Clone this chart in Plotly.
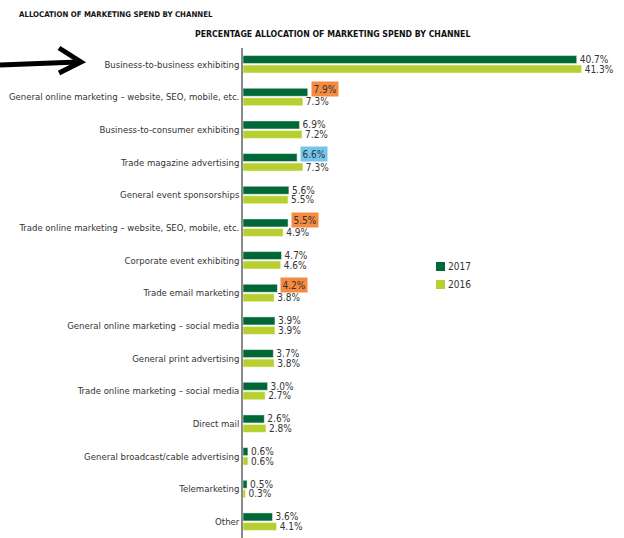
import plotly.graph_objects as go

categories = [
    "Business-to-business exhibiting",
    "General online marketing – website, SEO, mobile, etc.",
    "Business-to-consumer exhibiting",
    "Trade magazine advertising",
    "General event sponsorships",
    "Trade online marketing – website, SEO, mobile, etc.",
    "Corporate event exhibiting",
    "Trade email marketing",
    "General online marketing – social media",
    "General print advertising",
    "Trade online marketing – social media",
    "Direct mail",
    "General broadcast/cable advertising",
    "Telemarketing",
    "Other",
]
values_2017 = [40.7, 7.9, 6.9, 6.6, 5.6, 5.5, 4.7, 4.2, 3.9, 3.7, 3.0, 2.6, 0.6, 0.5, 3.6]
values_2016 = [41.3, 7.3, 7.2, 7.3, 5.5, 4.9, 4.6, 3.8, 3.9, 3.8, 2.7, 2.8, 0.6, 0.3, 4.1]
series_names = ["2017", "2016"]
# highlighted 2017 labels: category -> box colour
highlight_2017 = {
    "General online marketing – website, SEO, mobile, etc.": "#f58b3f",
    "Trade magazine advertising": "#74c6ee",
    "Trade online marketing – website, SEO, mobile, etc.": "#f58b3f",
    "Trade email marketing": "#f58b3f",
}

FONT = "DejaVu Sans Condensed, Liberation Sans Narrow, Arial Narrow, sans-serif"
DARK = "#006837"
LIGHT = "#b8d02f"
TXT = "#333333"

W, H = 624, 538
ML, MR, MT, MB = 243, 0, 48, 0
PW, PH = W - ML - MR, H - MT - MB

def px(x):
    return (x - ML) / PW

def py(y):
    return 1 - (y - MT) / PH

text17 = ["" if c in highlight_2017 else f"{v:.1f}%" for c, v in zip(categories, values_2017)]
text16 = [f"{v:.1f}%" for v in values_2016]

fig = go.Figure()
for name, vals, txt, col in [("2017", values_2017, text17, DARK), ("2016", values_2016, text16, LIGHT)]:
    fig.add_trace(go.Bar(
        name=name, y=categories, x=vals, orientation="h",
        marker=dict(color=col, line=dict(color="white", width=0.5)),
        text=txt, textposition="outside", constraintext="none", cliponaxis=False,
        textfont=dict(family=FONT, size=10, color=TXT),
    ))

annotations = []
for c, v in zip(categories, values_2017):
    if c in highlight_2017:
        annotations.append(dict(
            x=v, y=c, xref="x", yref="y", text=f"{v:.1f}%", showarrow=False,
            xanchor="left", yanchor="middle", xshift=3, yshift=8,
            bgcolor=highlight_2017[c], borderpad=1.5,
            font=dict(family=FONT, size=10, color=TXT),
        ))

annotations.append(dict(
    x=px(17), y=py(14), xref="paper", yref="paper", xanchor="left", yanchor="middle",
    text="<b>ALLOCATION OF MARKETING SPEND BY CHANNEL</b>", showarrow=False,
    font=dict(family=FONT, size=7.8, color="#111"),
))
annotations.append(dict(
    x=px(332), y=py(34), xref="paper", yref="paper", xanchor="center", yanchor="middle",
    text="<b>PERCENTAGE ALLOCATION OF MARKETING SPEND BY CHANNEL</b>", showarrow=False,
    font=dict(family=FONT, size=8.7, color="#111"),
))

shapes = [
    dict(type="path", xref="paper", yref="paper",
         path=f"M {px(0)},{py(65)} L {px(78)},{py(62)}",
         line=dict(color="black", width=5)),
    dict(type="path", xref="paper", yref="paper",
         path=f"M {px(59)},{py(48)} L {px(81)},{py(62)} L {px(59)},{py(73)}",
         line=dict(color="black", width=5)),
]

# manual legend (swatch + label)
for i, (name, col) in enumerate(zip(series_names, [DARK, LIGHT])):
    yc = 266.5 + i * 18
    shapes.append(dict(type="rect", xref="paper", yref="paper",
                       x0=px(436), x1=px(445), y0=py(yc - 4.5), y1=py(yc + 4.5),
                       fillcolor=col, line=dict(width=0)))
    annotations.append(dict(x=px(446), y=py(yc), xref="paper", yref="paper",
                            xanchor="left", yanchor="middle", text=name, showarrow=False,
                            font=dict(family=FONT, size=10, color=TXT)))

fig.update_layout(
    width=W, height=H,
    margin=dict(l=ML, r=MR, t=MT, b=MB),
    paper_bgcolor="white", plot_bgcolor="white",
    barmode="group", bargap=0.42, bargroupgap=0.15,
    font=dict(family=FONT, size=10, color=TXT),
    xaxis=dict(range=[0, PW / 8.2], visible=False, fixedrange=True, automargin=False),
    yaxis=dict(autorange="reversed", showline=True, linecolor="#8a8a8a", linewidth=1.5,
               ticks="", showgrid=False, automargin=False,
               tickfont=dict(family=FONT, size=9.5, color=TXT)),
    annotations=annotations,
    shapes=shapes,
    showlegend=False,
)

fig.write_html("out.html")
